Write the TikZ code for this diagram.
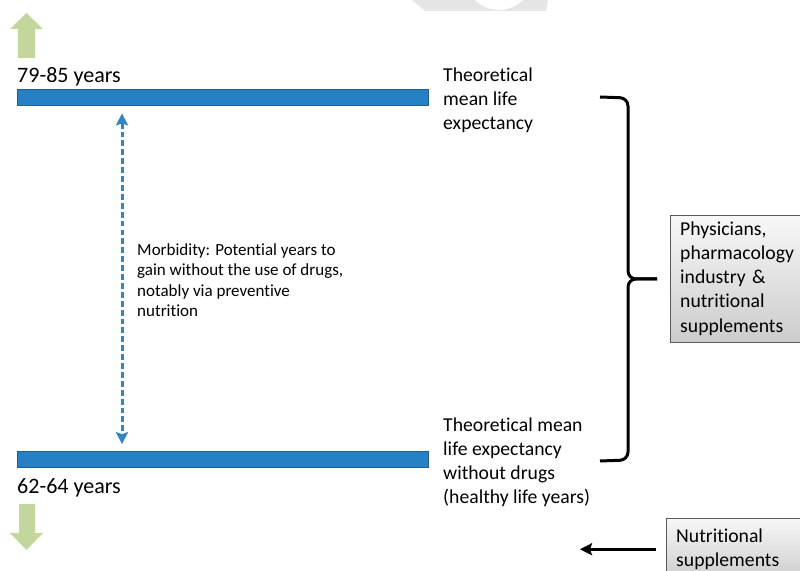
\documentclass[tikz,border=0pt]{standalone}
\usepackage{fontspec}
\setmainfont{Carlito}[Ligatures=NoCommon]
\usepackage{tikz}
\usetikzlibrary{arrows,arrows.meta,positioning,calc}
\definecolor{barblue}{RGB}{38,129,196}
\definecolor{baredge}{RGB}{30,94,148}
\definecolor{dashblue}{RGB}{46,134,200}
\definecolor{lightgreen}{RGB}{195,214,155}
\begin{document}
\begin{tikzpicture}[x=0.03cm,y=-0.03cm,>={Stealth[length=0.36cm,width=0.36cm,inset=0.06cm]},
                bar/.style={rectangle,draw=baredge,fill=barblue,line width=0.6pt,minimum width=12.33cm,minimum height=0.48cm,inner sep=0pt},
                side node/.style={anchor=base west,inner sep=0pt,align=left,font=\fontsize{16.8}{20.5}\selectfont},
                years node/.style={side node,font=\fontsize{18.8}{22}\selectfont},
                grey box/.style={rectangle,draw=gray!70!black,top color=gray!6,bottom color=gray!40,align=left,anchor=north west,
                                 text width=3.9cm,inner xsep=0.3cm,font=\fontsize{16.8}{20.5}\selectfont},
                green arrow/.style={fill=lightgreen,draw=none},
                brace line/.style={line width=0.09cm,rounded corners=0.24cm}]
            \useasboundingbox (0,0) rectangle (800,571);
            \clip (0,0) rectangle (800,571);
            \fill[black!10,even odd rule] (412,0) -- (548,0) -- (546,11) -- (425,11) -- cycle (499,-24) circle [radius=1.02cm];
            \fill[green arrow] (18,58) -- (18,29) -- (10,29) -- (26.5,13) -- (43,29) -- (35,29) -- (35,58) -- cycle;
            \fill[green arrow] (19,504) -- (35,504) -- (35,533) -- (43,533) -- (26.5,550) -- (10,533) -- (19,533) -- cycle;
            \node[years node] (high) at (17,83) {79-85 years};
            \node[years node] (low) at (17,494) {62-64 years};
            \node[bar] (top bar) at (222.5,97) {};
            \node[bar] (bottom bar) at (222.5,459.5) {};
            \node[side node] (mean) at (443,130) {Theoretical\\mean life\\expectancy};
            \node[side node] (healthy) at (443,504) {Theoretical mean\\life expectancy\\without drugs\\(healthy life years)};
            \node[side node,font=\fontsize{14.5}{17.6}\selectfont] (gain) at (137,317)
                {Morbidity: Potential years to\\gain without the use of drugs,\\notably via preventive\\nutrition};
            \node[grey box,minimum height=3.81cm] (actors) at (670,215)
                {Physicians,\\pharmacology\\industry \&\\nutritional\\supplements};
            \node[grey box,minimum height=1.86cm] (supp) at (666,518) {Nutritional\\supplements};
            \coordinate (dx) at (122,0);
            \coordinate (target) at (580,548);
            \draw[<->,dashblue,line width=0.09cm,dash pattern=on 5pt off 2.6pt,shorten >=0.21cm,shorten <=0.24cm]
                (top bar.south -| dx) -- (bottom bar.north -| dx);
            \draw[brace line] (600,97) -- (628,98) -- (628,279) -- (657,279);
            \draw[brace line] (600,461) -- (628,460) -- (628,279) -- (657,279);
            \draw[->,line width=0.09cm,shorten <=0.3cm] (supp.west) -- (target |- supp.west);
        \end{tikzpicture}
\end{document}
